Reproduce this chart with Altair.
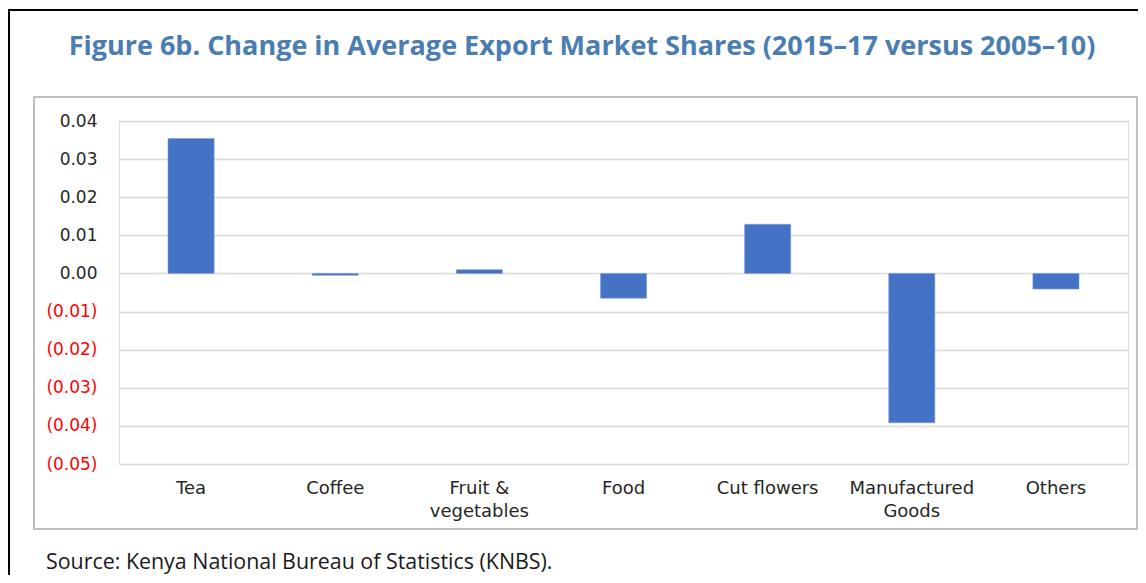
import altair as alt
import pandas as pd

categories = ["Tea", "Coffee", "Fruit &\nvegetables", "Food", "Cut flowers",
              "Manufactured\nGoods", "Others"]
values = [0.0354, -0.0005, 0.0010, -0.0065, 0.0129, -0.0392, -0.0041]
y_ticks = [0.04, 0.03, 0.02, 0.01, 0.0, -0.01, -0.02, -0.03, -0.04, -0.05]

title_text = "Figure 6b. Change in Average Export Market Shares (2015\u201317 versus 2005\u201310)"
source_text = "Source: Kenya National Bureau of Statistics (KNBS)."

df = pd.DataFrame({"category": categories, "value": values})
one = pd.DataFrame({"k": [0]})

W, H = 1009, 343
PL, PT = 111, 113
TOTAL_W, TOTAL_H = 1130, 567

FONT = "Open Sans"
LFONT = "DejaVu Sans"

bars = alt.Chart(df).mark_bar(color="#4472C4", stroke="#7F9FDB", strokeWidth=0.6).encode(
    x=alt.X("category:N", sort=categories,
            scale=alt.Scale(paddingInner=0.68, paddingOuter=0.34),
            axis=alt.Axis(title=None, ticks=False, domain=False, labelAngle=0,
                          labelExpr="split(datum.label, '\\n')",
                          labelFont=LFONT, labelFontSize=18, labelColor="#262626",
                          labelPadding=15, labelLineHeight=23, labelBaseline="top")),
    y=alt.Y("value:Q", scale=alt.Scale(domain=[-0.05, 0.04], nice=False, zero=False),
            axis=alt.Axis(title=None, ticks=False, domain=False, values=y_ticks,
                          labelExpr="datum.value >= -0.0001 ? format(datum.value, '.2f') + '\u00a0' : '(' + format(abs(datum.value), '.2f') + ')'",
                          labelColor={"condition": {"test": "datum.value < -0.0001", "value": "#FF0000"}, "value": "#262626"},
                          labelFont=LFONT, labelFontSize=17, labelPadding=22,
                          gridColor="#D9D9D9", gridWidth=1.5)),
)

outer_top = alt.Chart(one).mark_rule(color="#000000", strokeWidth=2).encode(
    x=alt.value(-PL), x2=alt.value(TOTAL_W), y=alt.value(-111))
outer_left = alt.Chart(one).mark_rule(color="#000000", strokeWidth=2).encode(
    x=alt.value(-110), y=alt.value(-112), y2=alt.value(TOTAL_H))

gray_box = alt.Chart(one).mark_rect(fill=None, stroke="#BFBFBF", strokeWidth=2).encode(
    x=alt.value(-85), x2=alt.value(1018), y=alt.value(-24), y2=alt.value(408))

title = alt.Chart(one).mark_text(text=title_text, font=FONT, fontSize=27, fontWeight="bold",
                                 color="#4A7DB1", align="center", baseline="alphabetic").encode(
    x=alt.value(463), y=alt.value(-66))

source = alt.Chart(one).mark_text(text=source_text, font=FONT, fontSize=21.4,
                                  color="#1A1A1A", align="left", baseline="alphabetic").encode(
    x=alt.value(-73), y=alt.value(448))

chart = alt.layer(gray_box, outer_top, outer_left, bars, title, source).properties(
    width=W, height=H,
    autosize=alt.AutoSizeParams(type="none"),
    padding={"left": PL, "top": PT, "right": TOTAL_W - PL - W, "bottom": TOTAL_H - PT - H},
).configure_view(stroke="#6F94D6", strokeWidth=1.5).configure(background="white")

chart.save("out.html", embed_options={"renderer": "svg", "actions": False})
